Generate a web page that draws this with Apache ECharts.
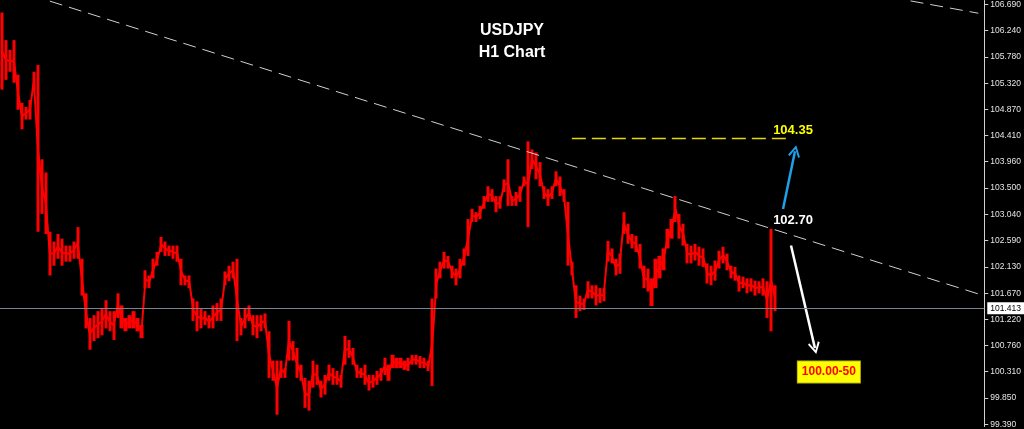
<!DOCTYPE html>
<html>
<head>
<meta charset="utf-8">
<script src="https://cdn.jsdelivr.net/npm/echarts@6.0.0/dist/echarts.min.js"></script>
<style>
  html, body { margin: 0; padding: 0; background: #000; }
  #chart { width: 1024px; height: 429px; }
</style>
</head>
<body>
<div id="chart"></div>
<script>
// ---- Data ----
const titleText = 'USDJPY';
const subTitleText = 'H1 Chart';

// Right axis tick labels
const tickLabels = ['99.390','99.850','100.310','100.760','101.220','101.670','102.130','102.590',
  '103.040','103.500','103.960','104.410','104.870','105.320','105.780','106.240','106.690'];

// Visible price window
const yMin = 99.355;
const yMax = 106.759;

// Number of bar slots on the chart (bars + empty space to the right)
const slotCount = 247;

// H1 bar highs and lows (one entry per bar group)
const highs = [
  106.55,106.07,105.90,106.07,105.47,104.98,104.91,105.03,105.52,105.64,
  104.00,103.77,102.74,102.57,102.70,102.62,102.50,102.50,102.57,102.82,
  102.27,101.67,101.24,101.29,101.36,101.41,101.55,101.36,101.36,101.67,
  101.46,101.24,101.29,101.36,101.24,101.12,102.07,101.98,102.27,102.39,
  102.65,102.57,102.50,102.50,102.50,102.27,101.98,101.98,101.58,101.53,
  101.41,101.36,101.29,101.46,101.50,101.58,102.05,102.15,102.22,102.27,
  101.24,101.41,101.46,101.29,101.29,101.29,101.32,101.01,100.50,100.50,
  100.50,100.37,101.19,100.84,100.72,100.43,100.20,100.15,100.50,100.43,
  100.15,100.25,100.43,100.37,100.32,100.25,100.93,100.86,100.72,100.43,
  100.37,100.43,100.25,100.25,100.32,100.37,100.55,100.43,100.60,100.55,
  100.55,100.50,100.55,100.60,100.60,100.58,100.55,100.50,101.58,102.10,
  102.22,102.39,102.32,102.15,102.10,102.27,102.45,102.96,103.14,103.08,
  103.19,103.36,103.53,103.48,103.36,103.36,103.65,104.00,103.36,103.43,
  103.53,103.70,104.31,104.17,104.12,103.95,103.53,103.48,103.53,103.79,
  103.70,103.48,103.26,102.22,101.81,101.63,101.58,101.88,101.81,101.81,
  101.76,101.76,102.58,102.45,102.27,102.36,103.08,102.88,102.70,102.67,
  102.53,102.15,102.10,101.93,102.27,102.32,102.45,102.79,102.96,103.36,
  103.05,102.88,102.53,102.50,102.53,102.48,102.45,102.19,102.15,102.24,
  102.41,102.48,102.36,102.15,102.13,101.98,101.96,101.93,101.93,101.89,
  101.88,101.93,101.88,102.79,101.81
];
const lows = [
  105.21,105.38,105.52,105.33,104.86,104.52,104.69,104.69,105.21,102.74,
  103.05,102.70,101.98,102.15,102.27,102.15,102.22,102.22,102.27,102.27,
  101.63,101.06,100.69,100.84,100.89,100.94,101.06,101.01,100.86,101.24,
  101.06,101.01,101.06,101.06,101.01,100.89,101.76,101.76,101.93,102.15,
  102.39,102.32,102.32,102.27,102.22,101.81,101.81,101.76,101.19,101.01,
  101.06,101.12,101.06,101.06,101.19,101.19,101.81,101.88,101.93,100.84,
  100.94,101.06,101.19,100.94,100.89,101.01,101.06,100.20,100.15,99.56,
  100.20,100.20,100.50,100.50,100.20,100.15,99.68,99.63,100.03,100.08,
  99.86,99.91,100.15,100.08,100.08,100.03,100.43,100.55,100.43,100.20,
  100.20,100.08,99.98,100.03,100.08,100.15,100.25,100.15,100.37,100.37,
  100.37,100.34,100.32,100.43,100.43,100.37,100.37,100.32,100.06,101.58,
  101.93,102.10,102.10,101.93,101.81,101.93,102.15,102.32,102.91,102.91,
  102.96,103.14,103.26,103.26,103.08,103.14,103.43,103.19,103.19,103.19,
  103.26,103.53,102.82,103.83,103.65,103.53,103.31,103.19,103.31,103.53,
  103.36,103.26,102.15,101.98,101.24,101.36,101.38,101.58,101.58,101.46,
  101.50,101.53,102.22,102.19,101.98,102.01,102.70,102.53,102.45,102.39,
  102.10,101.76,101.70,101.45,101.76,101.93,102.07,102.45,102.62,102.91,
  102.62,102.50,102.19,102.19,102.24,102.15,102.13,101.84,101.81,101.89,
  102.10,102.19,102.07,101.93,101.89,101.70,101.76,101.67,101.70,101.63,
  101.67,101.63,101.24,101.01,101.36
];

// Current price line
const currentPrice = 101.413;
const currentPriceLabel = '101.413';

// Trend lines: [slot index, price] pairs
const trendMain = [[12, 106.748], [246, 101.638]];
const trendTop = [[228, 106.752], [245, 106.538]];
const targetLine = [[143, 104.37], [198, 104.37]];

// Arrows: [slot index, price] start -> end
const arrowUp = [[196, 103.135], [199, 104.14]];
const arrowDown = [[198, 102.50], [204, 100.718]];

// Annotation texts: [slot index, price, text]
const noteTarget = [198, 104.507, '104.35'];
const noteBreak = [198, 102.945, '102.70'];
const noteDown = [207, 100.304, '100.00-50'];

// ---- Build chart ----
const categories = Array.from({ length: slotCount }, (_, i) => String(i));
const candles = highs.map((h, i) => [lows[i], h, lows[i], h]);
const mids = highs.map((h, i) => +((h + lows[i]) / 2).toFixed(3));
const tickValues = tickLabels.map(Number);
const chevron = 'path://M6,0 L12,10 L10.4,11.2 L6,3.6 L1.6,11.2 L0,10 Z';
const FONT = 'Liberation Sans, Arial, sans-serif';

const chart = echarts.init(document.getElementById('chart'), null, { renderer: 'canvas' });

const titleStyle = { color: '#ffffff', fontSize: 16, fontWeight: 'bold', fontFamily: FONT };

const option = {
  backgroundColor: '#000000',
  animation: false,
  title: [
    { text: titleText, left: 'center', top: 23, padding: 0, textStyle: titleStyle },
    { text: subTitleText, left: 'center', top: 45, padding: 0, textStyle: titleStyle }
  ],
  grid: { left: 0, right: 35, top: 0, bottom: 0, containLabel: false },
  xAxis: {
    type: 'category',
    data: categories,
    boundaryGap: true,
    show: false
  },
  yAxis: {
    type: 'value',
    position: 'right',
    min: yMin,
    max: yMax,
    splitLine: { show: false },
    axisLine: { show: true, lineStyle: { color: '#d0d0d0', width: 1 } },
    axisTick: { show: true, length: 4, lineStyle: { color: '#d0d0d0' }, customValues: tickValues },
    axisLabel: {
      customValues: tickValues,
      formatter: v => v.toFixed(3),
      color: '#e4e4e4',
      fontSize: 8.5,
      fontFamily: FONT,
      margin: 6
    }
  },
  series: [{
    type: 'line',
    data: mids,
    symbol: 'none',
    silent: true,
    lineStyle: { color: '#ff0000', width: 2 },
    z: 1
  }, {
    type: 'candlestick',
    data: candles,
    barWidth: '90%',
    z: 2,
    itemStyle: {
      color: '#ff0000', color0: '#ff0000',
      borderColor: '#ff0000', borderColor0: '#ff0000', borderWidth: 0
    },
    markLine: {
      silent: true,
      animation: false,
      symbol: ['none', 'none'],
      label: { show: false },
      data: [
        [
          { coord: trendMain[0], lineStyle: { color: '#d0d0d0', type: [13, 7], width: 1 } },
          { coord: trendMain[1] }
        ],
        [
          { coord: trendTop[0], lineStyle: { color: '#d0d0d0', type: [13, 7], width: 1 } },
          { coord: trendTop[1] }
        ],
        [
          { coord: targetLine[0], lineStyle: { color: '#e8d800', type: [14, 6], width: 1.3 } },
          { coord: targetLine[1] }
        ],
        [
          { coord: arrowUp[0], lineStyle: { color: '#1fa0e8', type: 'solid', width: 2.5 } },
          { coord: arrowUp[1], symbol: chevron, symbolSize: [12, 12] }
        ],
        [
          { coord: arrowDown[0], lineStyle: { color: '#ffffff', type: 'solid', width: 2.5 } },
          { coord: arrowDown[1], symbol: chevron, symbolSize: [12, 12] }
        ],
        {
          yAxis: currentPrice,
          lineStyle: { color: '#7a8290', type: 'solid', width: 1 },
          label: {
            show: true, position: 'end', distance: 3,
            formatter: currentPriceLabel,
            backgroundColor: '#ffffff', color: '#000000',
            padding: [2, 3, 1, 3], fontSize: 8.5,
            fontFamily: FONT
          }
        }
      ]
    },
    markPoint: {
      silent: true,
      animation: false,
      symbol: 'circle',
      symbolSize: 1,
      itemStyle: { color: 'rgba(0,0,0,0)' },
      data: [
        {
          coord: [noteTarget[0], noteTarget[1]],
          label: { show: true, position: 'inside', formatter: noteTarget[2], color: '#ffff00',
            fontWeight: 'bold', fontSize: 13, fontFamily: FONT, offset: [2, 0] }
        },
        {
          coord: [noteBreak[0], noteBreak[1]],
          label: { show: true, position: 'inside', formatter: noteBreak[2], color: '#ffffff',
            fontWeight: 'bold', fontSize: 13, fontFamily: FONT, offset: [2, 0] }
        },
        {
          coord: [noteDown[0], noteDown[1]],
          label: { show: true, position: 'inside', formatter: noteDown[2], color: '#ff0000',
            fontWeight: 'bold', fontSize: 12, fontFamily: FONT,
            backgroundColor: '#ffff00', borderColor: '#b8b800', borderWidth: 1,
            padding: [5, 4, 4, 4], offset: [2, 0] }
        }
      ]
    }
  }]
};

chart.setOption(option);
</script>
</body>
</html>
